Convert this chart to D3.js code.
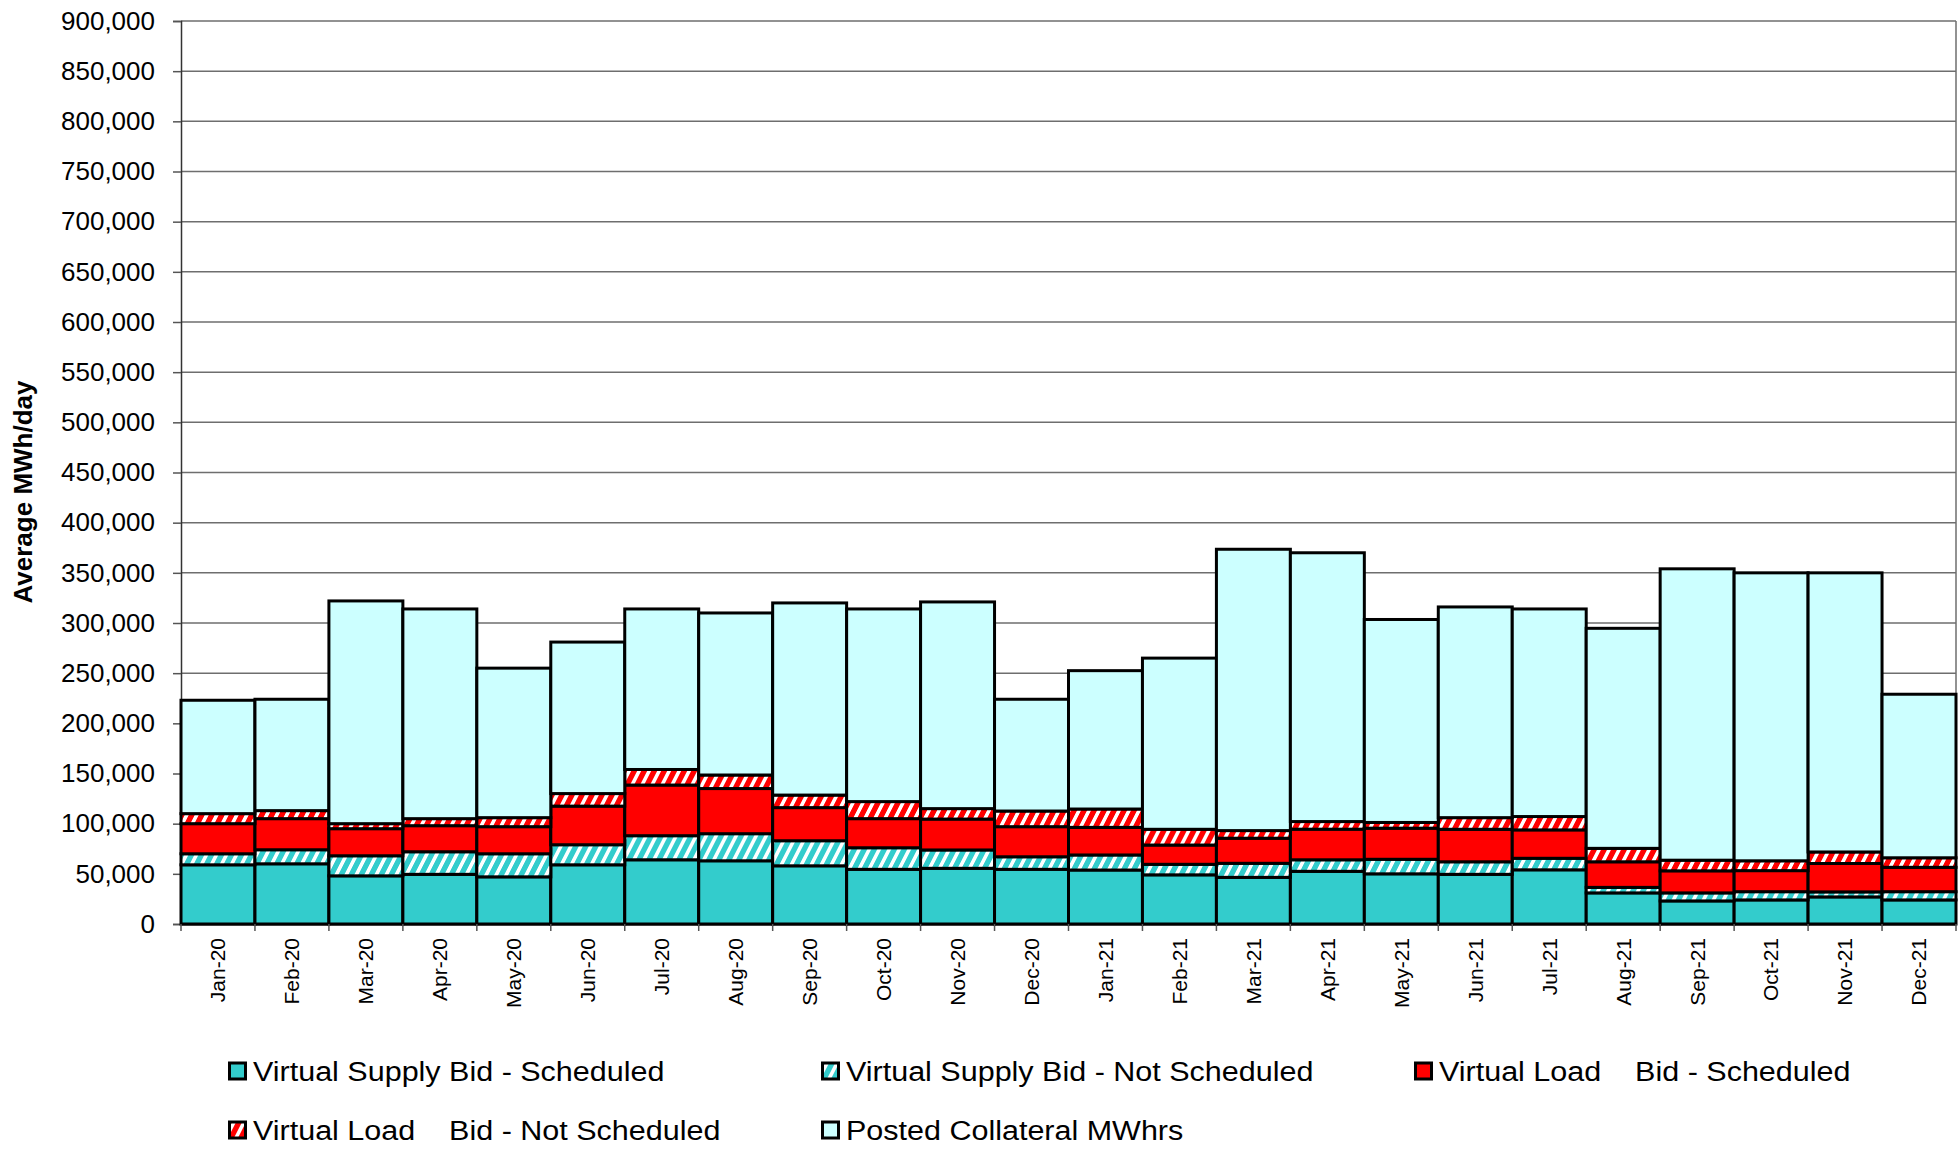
<!DOCTYPE html>
<html>
<head>
<meta charset="utf-8">
<script src="https://cdn.jsdelivr.net/npm/d3@7"></script>
<style>
  body { margin: 0; background: #fff; }
  text { font-family: "Liberation Sans", Arial, sans-serif; }
</style>
</head>
<body>
<div id="chart"></div>
<script>
var months = ["Jan-20", "Feb-20", "Mar-20", "Apr-20", "May-20", "Jun-20", "Jul-20", "Aug-20",
    "Sep-20", "Oct-20", "Nov-20", "Dec-20", "Jan-21", "Feb-21", "Mar-21", "Apr-21",
    "May-21", "Jun-21", "Jul-21", "Aug-21", "Sep-21", "Oct-21", "Nov-21", "Dec-21"];

// average MWh/day per segment
var vsSched = [59000, 60000, 48000, 49500, 47000, 59000, 64000, 63000, 58000, 54500, 55500, 54500,
    53800, 49000, 46500, 52500, 50000, 49500, 54000, 31000, 23000, 24000, 27000, 24000];
var vsNotSched = [11000, 14000, 20000, 22500, 23000, 20000, 24000, 27000, 25000, 21500, 18300, 12500,
    15000, 10500, 14000, 11500, 14500, 12500, 11500, 5500, 8000, 8200, 5000, 8200];
var vlSched = [30000, 31000, 27000, 26000, 27000, 38500, 50500, 45000, 33000, 29000, 30800, 30000,
    27500, 19200, 25000, 30500, 31000, 32400, 28300, 25500, 22000, 21000, 28300, 24300];
var vlNotSched = [10000, 8000, 5000, 7000, 9000, 12500, 15500, 13500, 12500, 17000, 10400, 15600,
    18300, 15700, 7600, 7600, 5700, 11600, 13300, 13400, 10600, 9800, 11500, 9500];
var collateral = [113000, 111000, 222000, 209000, 149000, 151000, 160000, 161500, 191500, 192000, 206000, 111400,
    137900, 170600, 280400, 267900, 202300, 210000, 206900, 219300, 290400, 287000, 278200, 163000];

var yTicks = [0, 50000, 100000, 150000, 200000, 250000, 300000, 350000, 400000, 450000,
    500000, 550000, 600000, 650000, 700000, 750000, 800000, 850000, 900000];

var seriesKeys = ["vsSched", "vsNot", "vlSched", "vlNot", "coll"];
var seriesNames = ["Virtual Supply Bid - Scheduled", "Virtual Supply Bid - Not Scheduled",
    "Virtual Load    Bid - Scheduled", "Virtual Load    Bid - Not Scheduled", "Posted Collateral MWhrs"];

var W = 1959, H = 1152;
var m = {left: 181, right: 3, top: 21, bottom: 228};

var svg = d3.select("#chart").append("svg")
    .attr("width", W).attr("height", H);

var defs = svg.append("defs");
function hatch(id, bg) {
    var p = defs.append("pattern")
        .attr("id", id)
        .attr("patternUnits", "userSpaceOnUse")
        .attr("width", 10).attr("height", 10)
        .attr("patternTransform", "skewX(-27)");
    p.append("rect").attr("width", 10).attr("height", 10).attr("fill", bg);
    p.append("rect").attr("x", 0).attr("width", 4).attr("height", 10).attr("fill", "#fff");
}
hatch("hatchCyan", "#33CCCC");
hatch("hatchRed", "#FF0000");

var fills = {
    vsSched: "#33CCCC",
    vsNot: "url(#hatchCyan)",
    vlSched: "#FF0000",
    vlNot: "url(#hatchRed)",
    coll: "#CCFFFF"
};

var rows = months.map(function(mo, i) {
    return {month: mo, vsSched: vsSched[i], vsNot: vsNotSched[i], vlSched: vlSched[i],
        vlNot: vlNotSched[i], coll: collateral[i]};
});

var x = d3.scaleBand().domain(months).range([m.left, W - m.right]).padding(0);
var y = d3.scaleLinear().domain([0, 900000]).range([H - m.bottom, m.top]);

// gridlines
svg.append("g").selectAll("line").data(yTicks.slice(1)).enter().append("line")
    .attr("x1", m.left).attr("x2", W - m.right)
    .attr("y1", function(d) { return y(d); }).attr("y2", function(d) { return y(d); })
    .attr("stroke", "#6e6e6e").attr("stroke-width", 1.5);

// right border of plot area
svg.append("line")
    .attr("x1", W - m.right).attr("x2", W - m.right)
    .attr("y1", y(900000)).attr("y2", y(0))
    .attr("stroke", "#6e6e6e").attr("stroke-width", 1.5);

// y axis
var yAxis = svg.append("g")
    .attr("transform", "translate(" + m.left + ",0)")
    .call(d3.axisLeft(y).tickValues(yTicks).tickSize(8).tickPadding(18)
        .tickFormat(d3.format(",")));
yAxis.select(".domain").attr("stroke", "#333").attr("stroke-width", 1.5);
yAxis.selectAll(".tick line").attr("stroke", "#555").attr("stroke-width", 1.5);
yAxis.selectAll("text").attr("font-size", 26).attr("fill", "#000")
    .attr("font-family", "'Liberation Sans', Arial, sans-serif");

// stacked bars
var stacked = d3.stack().keys(seriesKeys)(rows);
svg.append("g").selectAll("g").data(stacked).enter().append("g")
    .attr("fill", function(s) { return fills[s.key]; })
    .selectAll("rect").data(function(s) { return s; }).enter().append("rect")
    .attr("x", function(d) { return x(d.data.month); })
    .attr("width", x.bandwidth())
    .attr("y", function(d) { return y(d[1]); })
    .attr("height", function(d) { return y(d[0]) - y(d[1]); })
    .attr("stroke", "#000").attr("stroke-width", 3);

// x axis
var xAxis = svg.append("g")
    .attr("transform", "translate(0," + y(0) + ")")
    .call(d3.axisBottom(x).tickSize(0).tickPadding(0));
xAxis.select(".domain").attr("stroke", "#000").attr("stroke-width", 2);
xAxis.selectAll("text")
    .attr("font-size", 21).attr("fill", "#000")
    .attr("font-family", "'Liberation Sans', Arial, sans-serif")
    .attr("text-anchor", "end")
    .attr("dy", "0.35em")
    .attr("transform", "translate(0,14) rotate(-90)")
    .attr("x", 0).attr("y", 0);

// boundary ticks
var edges = months.map(function(d) { return x(d); }).concat([x(months[months.length - 1]) + x.bandwidth()]);
svg.append("g").selectAll("line").data(edges).enter().append("line")
    .attr("x1", function(d) { return d; }).attr("x2", function(d) { return d; })
    .attr("y1", y(0)).attr("y2", y(0) + 7)
    .attr("stroke", "#555").attr("stroke-width", 1.5);

// y axis title
svg.append("text")
    .attr("transform", "translate(32,492) rotate(-90)")
    .attr("text-anchor", "middle")
    .attr("font-size", 26).attr("font-weight", "bold")
    .text("Average MWh/day");

// legend
var legPos = [[228, 1071], [821, 1071], [1414, 1071], [228, 1130], [821, 1130]];
var leg = svg.append("g").selectAll("g").data(seriesKeys).enter().append("g")
    .attr("transform", function(d, i) { return "translate(" + legPos[i][0] + "," + legPos[i][1] + ")"; });
leg.append("rect")
    .attr("x", 1.5).attr("y", -8).attr("width", 16).attr("height", 16)
    .attr("fill", function(d) { return fills[d]; })
    .attr("stroke", "#000").attr("stroke-width", 3);
leg.append("text")
    .attr("transform", "translate(25,0) scale(1.09,1)")
    .attr("dy", "0.35em")
    .attr("font-size", 28)
    .style("white-space", "pre")
    .text(function(d, i) { return seriesNames[i]; });
</script>
</body>
</html>
